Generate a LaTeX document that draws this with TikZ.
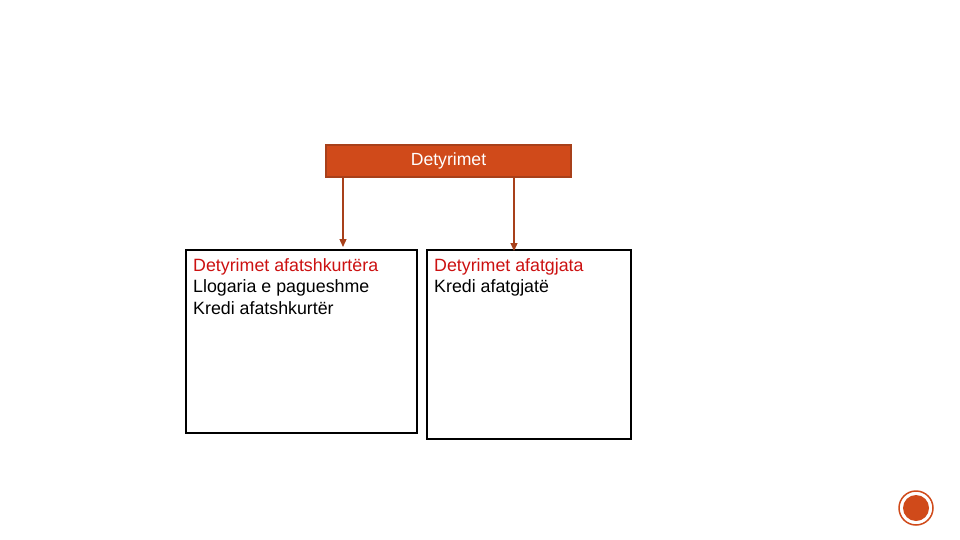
\documentclass[tikz,border=0pt]{standalone}
\usepackage{fontspec}
\setmainfont{Liberation Sans}
\usetikzlibrary{arrows.meta}
\definecolor{org}{HTML}{D04A1A}
\definecolor{orgd}{HTML}{A8401A}
\definecolor{txtred}{HTML}{CC1111}
\tikzset{box/.style={draw=black,line width=1.5pt,fill=white},
 conn/.style={draw=orgd,line width=1.3pt,-{Triangle[length=8pt,width=7pt]}},
 lbl/.style={anchor=north west,align=left,font=\fontsize{17.8}{21.5}\selectfont,inner sep=0pt}}
\begin{document}
\begin{tikzpicture}[x=1pt,y=-1pt]
\useasboundingbox (0,0) rectangle (960,540);
\fill[white] (0,0) rectangle (960,540);
\node[draw=orgd,fill=org,line width=1.2pt,minimum width=245pt,minimum height=32pt,inner sep=0pt,text=white,font=\fontsize{17.6}{20}\selectfont] (top) at (448.5,161) {Detyrimet};
\node[box,minimum width=231pt,minimum height=183pt,inner sep=0pt] (L) at (301.5,341.5) {};
\node[box,minimum width=204pt,minimum height=189pt,inner sep=0pt] (R) at (529,344.5) {};
\node[lbl] (lt) at (193,258) {\textcolor{txtred}{Detyrimet afatshkurtëra}\\Llogaria e pagueshme\\Kredi afatshkurtër};
\node[lbl] (rt) at (434,258) {\textcolor{txtred}{Detyrimet afatgjata}\\Kredi afatgjatë};
\coordinate (la) at (343,247);
\coordinate (ra) at (514,251);
\draw[conn] (top.south -| la) -- (la);
\draw[conn] (top.south -| ra) -- (ra);
\node[circle,draw=org,line width=1.5pt,minimum size=34pt,inner sep=0pt] (c1) at (916,508) {};
\node[circle,fill=org,minimum size=26pt,inner sep=0pt] (c2) at (916,508) {};
\end{tikzpicture}
\end{document}
